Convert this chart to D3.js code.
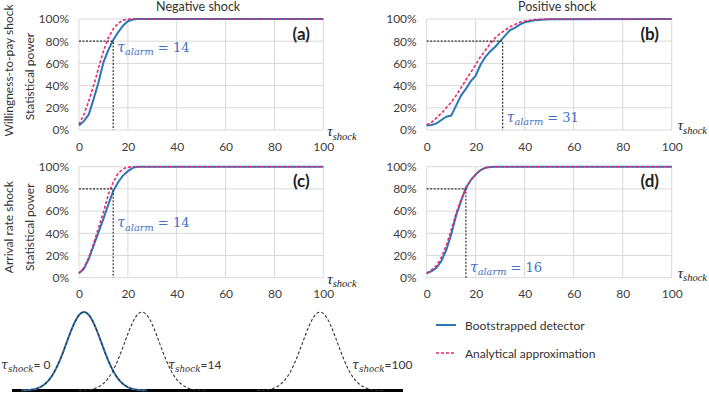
<!DOCTYPE html>
<html>
<head>
<meta charset="utf-8">
<script src="https://d3js.org/d3.v7.min.js"></script>
<style>
    body { margin: 0; background: #fff; }
    svg { display: block; }
    text { font-family: Lato, "Open Sans", sans-serif; fill: #333; }
    .grid line { stroke: #d9d9d9; stroke-width: 1; }
    .tick text { font-size: 12px; fill: #404040; }
    .math { font-style: italic; }
    .boot { fill: none; stroke: #2e75b6; stroke-width: 2; }
    .anal { fill: none; stroke: #e6286e; stroke-width: 1.6; stroke-dasharray: 3,2; }
    .alarm { fill: none; stroke: #333; stroke-width: 1.2; stroke-dasharray: 2,1.5; }
    .bell { fill: none; stroke: #333; stroke-width: 1.1; stroke-dasharray: 3,2; }
</style>
</head>
<body>

<svg id="chart" width="709" height="393"></svg>

<script>

    // shock delay on the x axis (same samples for every panel)
    let tauShock = [0,2,4,6,8,10,12,14,16,18,20,22,24,26,28,30,32,34,36,38,40,44,50,100];

    // statistical power in %
    let aBoot = [4,8,14,28,43,61,72,81,88,94,98,99.5,100,100,100,100,100,100,100,100,100,100,100,100];
    let aAnal = [5,14,26,40,56,71,83,91,96,99,100,100,100,100,100,100,100,100,100,100,100,100,100,100];
    let bBoot = [4,4.5,6,9,12,13,22,31,37,44,49,59,66,71,75,80,85,90,92,95,97,98.8,99.8,100];
    let bAnal = [4.5,7,11,15,20,25,31,38,45,52,59,66,72,78,83,87,90,93,95,97,98,99.5,100,100];
    let cBoot = [4,8,17,29,41,53,66,78,86,92,96,99,100,100,100,100,100,100,100,100,100,100,100,100];
    let cAnal = [4,9,18,31,45,59,75,86,94,98,99.5,100,100,100,100,100,100,100,100,100,100,100,100,100];
    let dBoot = [4,6,9,15,25,39,56,69,81,88,93,97,99,99.7,100,100,100,100,100,100,100,100,100,100];
    let dAnal = [4,7,11,18,29,43,58,70,80,88,93,97,99,99.7,100,100,100,100,100,100,100,100,100,100];

    let panelIds = ['a', 'b', 'c', 'd'];
    let tauAlarm = [14, 31, 14, 16];
    let alarmPower = 80;

    let xTicks = [0, 20, 40, 60, 80, 100];
    let yTicks = [0, 20, 40, 60, 80, 100];

    let colTitles = ['Negative shock', 'Positive shock'];
    let rowTitles = ['Willingness-to-pay shock', 'Arrival rate shock'];
    let legendLabels = ['Bootstrapped detector', 'Analytical approximation'];
    let bellShocks = [0, 14, 100];

    let series = [[aBoot, aAnal], [bBoot, bAnal], [cBoot, cAnal], [dBoot, dAnal]];

    // layout
    let colX = [[79, 323.3], [426.7, 671.7]];
    let rowY = [[130, 19], [277.7, 166.7]];
    let alarmLabelAt = [75, 12, 50, 10];

    let svg = d3.select('#chart');
    let dejavu = '"DejaVu Serif", serif', libSerif = '"Liberation Serif", serif';

    function tauText(sel, sub, size, font) {
        sel.append('tspan').attr('class', 'math').style('font-family', font)
            .style('font-size', size + 'px').text('τ');
        sel.append('tspan').attr('class', 'math').style('font-family', font)
            .style('font-size', (size * 0.7) + 'px').attr('dy', size * 0.25).text(sub);
    }

    panelIds.forEach((id, i) => {
        let c = i % 2, r = Math.floor(i / 2);
        let x = d3.scaleLinear().domain([0, 100]).range(colX[c]);
        let y = d3.scaleLinear().domain([0, 100]).range(rowY[r]);
        let g = svg.append('g');

        let grid = g.append('g').attr('class', 'grid');
        grid.selectAll('.v').data(xTicks).enter().append('line')
            .attr('x1', d => x(d)).attr('x2', d => x(d))
            .attr('y1', y(0)).attr('y2', y(100));
        grid.selectAll('.h').data(yTicks).enter().append('line')
            .attr('x1', x(0)).attr('x2', x(100))
            .attr('y1', d => y(d)).attr('y2', d => y(d));

        g.append('g').attr('transform', 'translate(0,' + y(0) + ')')
            .call(d3.axisBottom(x).tickValues(xTicks).tickSize(0).tickPadding(12))
            .call(a => a.select('.domain').remove());
        g.append('g').attr('transform', 'translate(' + x(0) + ',0)')
            .call(d3.axisLeft(y).tickValues(yTicks).tickSize(0).tickPadding(10).tickFormat(d => d + '%'))
            .call(a => a.select('.domain').remove());
        g.selectAll('.tick text').attr('font-family', null);

        let line = d3.line().x((d, k) => x(tauShock[k])).y(d => y(d));
        g.append('path').attr('class', 'boot').attr('d', line(series[i][0]));
        g.append('path').attr('class', 'anal').attr('d', line(series[i][1]));

        let ta = tauAlarm[i];
        g.append('path').attr('class', 'alarm')
            .attr('d', 'M' + x(0) + ',' + y(alarmPower) + 'H' + x(ta) + 'V' + y(0));

        let lab = g.append('text')
            .attr('x', x(ta) + 4).attr('y', y(alarmLabelAt[i]) + 5)
            .style('fill', '#4472c4');
        tauText(lab, 'alarm', 14, dejavu);
        lab.append('tspan').attr('dy', -14 * 0.25)
            .style('font-family', dejavu).style('font-size', '13px')
            .style('fill', '#4472c4').text(' = ' + ta);

        g.append('text').attr('x', x(100) - 22).attr('y', y(100) + 14)
            .attr('text-anchor', 'middle').attr('dominant-baseline', 'central')
            .style('font-weight', 'bold').style('font-size', '17px').style('fill', '#222')
            .text('(' + id + ')');

        let tl = g.append('text').attr('x', x(100) + (c ? 6 : 4)).attr('y', y(0) + (c ? 0 : 6))
            .style('fill', '#222');
        tauText(tl, 'shock', 15, libSerif);
    });

    colTitles.forEach((t, c) => {
        svg.append('text').attr('x', (colX[c][0] + colX[c][1]) / 2 + (c ? 8 : -3)).attr('y', 6)
            .attr('text-anchor', 'middle').attr('dominant-baseline', 'central')
            .style('font-size', '12.5px').text(t);
    });

    rowTitles.forEach((t, r) => {
        let cy = (rowY[r][0] + rowY[r][1]) / 2;
        svg.append('text').attr('transform', 'translate(8,' + (cy + (r ? 5 : -4)) + ') rotate(-90)')
            .attr('text-anchor', 'middle').attr('dominant-baseline', 'central')
            .style('font-size', '12px').text(t);
        svg.append('text').attr('transform', 'translate(29,' + (cy + (r ? 5 : 2)) + ') rotate(-90)')
            .attr('text-anchor', 'middle').attr('dominant-baseline', 'central')
            .style('font-size', '12px').text('Statistical power');
    });

    // schematic of the shifting distributions
    let bellX = d3.scaleLinear().domain([0, 14, 100]).range([84, 142, 320]);
    let base = 390.5, peak = 312, sigma = 17.5;
    let us = d3.range(-3.6, 3.61, 0.1);
    let bellLine = d3.line().x(d => d[0]).y(d => d[1]);
    function bellPts(s) {
        let cx = bellX(s);
        return us.map(u => [cx + u * sigma, base - (base - peak) * Math.exp(-u * u / 2)]);
    }

    svg.append('line').attr('x1', 12).attr('x2', 403).attr('y1', base).attr('y2', base)
        .attr('stroke', '#000').attr('stroke-width', 3);

    svg.append('path').attr('class', 'boot').attr('d', bellLine(bellPts(bellShocks[0])));
    svg.selectAll('.bell').data(bellShocks).enter().append('path')
        .attr('class', 'bell').attr('d', d => bellLine(bellPts(d)));

    bellShocks.forEach((s, k) => {
        let t = svg.append('text')
            .attr('x', k === 0 ? 1 : bellX(s) + (k === 1 ? 26 : 32))
            .attr('y', 369);
        tauText(t, 'shock', 12.5, dejavu);
        t.append('tspan').attr('dy', -12.5 * 0.25).style('font-size', '12px')
            .text(k === 0 ? '= ' + s : '=' + s);
    });

    // legend
    let leg = svg.append('g');
    legendLabels.forEach((t, k) => {
        let ly = 325 + k * 28;
        leg.append('line').attr('class', k ? 'anal' : 'boot')
            .attr('x1', 436).attr('x2', 456).attr('y1', ly).attr('y2', ly);
        leg.append('text').attr('x', 465).attr('y', ly).attr('dominant-baseline', 'central')
            .style('font-size', '12px').text(t);
    });

</script>

</body>
</html>
